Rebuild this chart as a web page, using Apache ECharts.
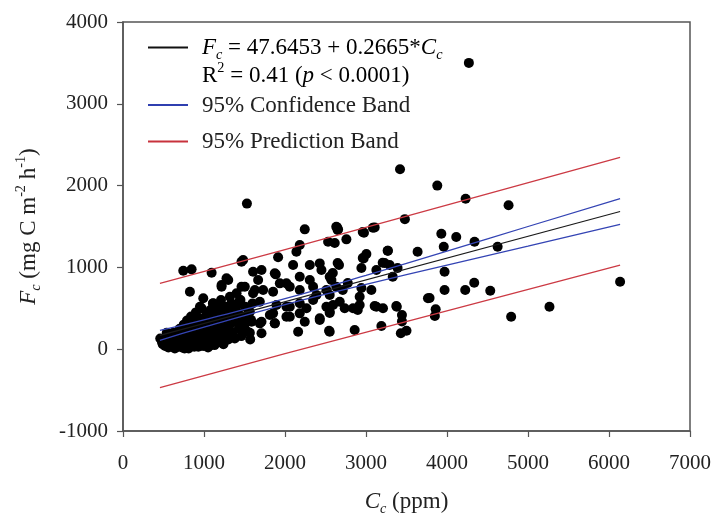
<!DOCTYPE html>
<html>
<head>
<meta charset="utf-8">
<script src="https://cdn.jsdelivr.net/npm/echarts@6/dist/echarts.min.js"></script>
<style>
  html, body { margin: 0; padding: 0; background: #fff; }
  #chart { width: 714px; height: 522px; }
</style>
</head>
<body>
<div id="chart"></div>
<script>
// x: Cc (ppm), y: Fc (mg C m-2 h-1)
const scatterPoints = [
  // dense cluster at low Cc
  [460,130],[480,90],[490,60],[510,110],[520,40],[540,150],[550,70],[560,20],[570,100],[590,50],
  [600,180],[610,30],[620,130],[630,80],[640,10],[650,200],[660,60],[670,140],[680,30],[690,100],
  [700,250],[710,50],[720,170],[730,20],[740,120],[750,300],[760,80],[770,200],[780,40],[790,350],
  [800,150],[810,10],[820,260],[830,90],[840,400],[850,180],[860,40],[870,320],[880,120],[890,220],
  [900,60],[900,450],[910,280],[920,150],[930,30],[940,380],[950,200],[960,100],[970,500],[980,260],
  [990,40],[1000,330],[1010,160],[1020,80],[1030,420],[1040,230],[1050,20],[1060,300],[1070,130],[1080,480],
  [1090,200],[1100,60],[1100,360],[1110,560],[1120,250],[1130,140],[1140,420],[1150,320],[1160,80],[1170,500],
  [1180,200],[1190,380],[1200,130],[1210,600],[1220,280],[1230,450],[1240,60],[1250,350],[1260,180],[1270,520],
  [1280,420],[1290,240],[1300,120],[1310,480],[1320,300],[1340,560],[1350,200],[1360,400],[1380,130],[1390,520],
  [1400,330],[1420,450],[1430,250],[1450,600],[1460,160],[1480,400],[1500,300],[1510,520],[1530,220],[1550,440],
  [1570,120],[1580,360],[1600,560],[580,160],[620,200],[680,210],[720,110],[760,10],[800,60],[850,120],
  [880,30],[940,110],[980,170],[1030,110],[1080,50],[1130,50],[700,140],[640,160],[540,200],[760,240],
  [820,330],[900,380],[960,300],
  // upper part of the cluster
  [744,960],[847,976],[1094,935],[1463,1070],[826,703],[1299,846],[1217,764],[1463,764],[991,622],[1114,561],
  [1320,642],[1402,683],[950,519],[1217,519],[1443,561],[1278,866],[1217,785],
  // middle range
  [1530,1780],[2244,1465],[2633,1497],[2182,1273],[2141,1191],[2532,1314],[1483,1090],[1915,1123],[2100,1029],[2306,1029],
  [2429,1049],[2450,968],[2552,886],[1606,947],[1710,968],[1874,927],[1668,846],[1504,764],[2182,886],[2306,846],
  [1936,805],[2059,764],[1730,723],[1853,703],[1606,683],[2182,723],[2388,662],[2552,662],[1443,601],[1689,581],
  [1895,540],[2059,519],[2265,500],[2511,519],[1566,458],[1813,418],[2059,397],[2429,377],[1483,336],[1689,316],
  [1874,316],[2244,336],[1566,200],[1710,194],[2162,214],[2544,226],[2643,1489],[2655,1465],[2758,1343],[2975,1424],
  [3107,1489],[3271,1204],[2971,1110],[2667,1029],[1886,915],[1628,723],[2018,805],[2347,764],[2511,723],[2347,601],
  [2593,540],[2737,500],[2922,540],[3128,519],[2018,519],[2182,561],[1853,438],[2018,397],[2182,438],[2429,357],
  [1587,336],[1710,336],[1874,316],[2552,458],
  [2650,1457],[2960,1432],[3085,1485],[2614,1298],[2960,1114],[3005,1163],[2650,1053],[3206,1057],[2943,992],[3128,968],
  [2590,931],[2573,846],[2775,809],[2633,764],[2943,748],[3066,723],[2713,723],[2922,642],[2676,581],[2840,500],
  [2898,479],[3107,528],[3374,528],[2552,442],[2860,235],[2552,214],[3765,622],
  // high Cc
  [4270,3500],[3420,2200],[3880,2000],[4230,1840],[4760,1760],[3480,1590],[3930,1411],[4114,1371],[3960,1253],[4340,1314],
  [4625,1253],[3267,1204],[3637,1192],[3230,1053],[3292,1029],[3390,993],[3330,886],[3970,947],[3970,723],[4225,723],
  [4336,813],[4534,715],[3785,626],[3210,500],[3380,519],[3444,418],[3444,340],[3430,194],[3500,226],[3860,488],
  [3850,406],[5265,519],[4792,397],[6137,825],[3190,284]
];

// regression line and bands, read at a few Cc values
const fitX = [456, 6137];
const fitY = [169, 1683];
const confX = [456, 1000, 2000, 3000, 4000, 5000, 6137];
const confUpper = [229, 359, 617, 902, 1199, 1500, 1840];
const confLower = [109, 269, 545, 792, 1029, 1260, 1526];
const predX = [456, 2000, 6137];
const predUpper = [806, 1217, 2346];
const predLower = [-470, -55, 1029];

const xTicks = { min: 0, max: 7000, interval: 1000 };
const yTicks = { min: -1000, max: 4000, interval: 1000 };

const serif = 'Liberation Serif';
const axisColor = '#555';
const textColor = '#222';
const pair = (xs, ys) => xs.map((x, i) => [x, ys[i]]);

const rich = (size) => ({
  n: { fontFamily: serif, fontSize: size, color: textColor },
  i: { fontFamily: serif, fontSize: size, fontStyle: 'italic', color: textColor },
  sub: { fontFamily: serif, fontSize: size * 0.62, fontStyle: 'italic', color: textColor, verticalAlign: 'bottom', lineHeight: size * 1.25 },
  sup: { fontFamily: serif, fontSize: size * 0.62, color: textColor, verticalAlign: 'top', lineHeight: size * 1.25 }
});

const chart = echarts.init(document.getElementById('chart'), null, { renderer: 'canvas' });

const option = {
  animation: false,
  backgroundColor: '#fff',
  grid: { left: 123, right: 23, top: 22, bottom: 91, show: true, borderColor: axisColor, borderWidth: 1.5 },
  xAxis: {
    type: 'value',
    min: xTicks.min, max: xTicks.max, interval: xTicks.interval,
    axisLine: { show: true, onZero: false, lineStyle: { color: axisColor, width: 1.5 } },
    axisTick: { show: true, length: 6, lineStyle: { color: axisColor, width: 1.2 } },
    splitLine: { show: false },
    axisLabel: { color: textColor, fontFamily: serif, fontSize: 21, margin: 22, formatter: (v) => String(v) },
    name: '{i|C}{sub|c}{n| (ppm)}',
    nameLocation: 'middle',
    nameGap: 57,
    nameTextStyle: { rich: rich(23) }
  },
  yAxis: {
    type: 'value',
    min: yTicks.min, max: yTicks.max, interval: yTicks.interval,
    axisLine: { show: true, onZero: false, lineStyle: { color: axisColor, width: 1.5 } },
    axisTick: { show: true, length: 6, lineStyle: { color: axisColor, width: 1.2 } },
    splitLine: { show: false },
    axisLabel: { color: textColor, fontFamily: serif, fontSize: 21, margin: 15, formatter: (v) => String(v) },
    name: '{i|F}{sub|c}{n| (mg C m}{sup|-2}{n| h}{sup|-1}{n|)}',
    nameLocation: 'middle',
    nameGap: 80,
    nameTextStyle: { rich: rich(23) }
  },
  series: [
    {
      type: 'scatter',
      data: scatterPoints,
      symbolSize: 10,
      itemStyle: { color: '#000', opacity: 1 },
      z: 2
    },
    {
      type: 'line', data: pair(fitX, fitY), showSymbol: false, z: 5,
      lineStyle: { color: '#1a1a1a', width: 1.2 }
    },
    {
      type: 'line', data: pair(confX, confUpper), showSymbol: false, smooth: true, z: 5,
      lineStyle: { color: '#3444b4', width: 1.3 }
    },
    {
      type: 'line', data: pair(confX, confLower), showSymbol: false, smooth: true, z: 5,
      lineStyle: { color: '#3444b4', width: 1.3 }
    },
    {
      type: 'line', data: pair(predX, predUpper), showSymbol: false, smooth: true, z: 5,
      lineStyle: { color: '#cc3a44', width: 1.3 }
    },
    {
      type: 'line', data: pair(predX, predLower), showSymbol: false, smooth: true, z: 5,
      lineStyle: { color: '#cc3a44', width: 1.3 }
    }
  ],
  graphic: [
    { type: 'line', shape: { x1: 148, y1: 47.5, x2: 188, y2: 47.5 }, style: { stroke: '#111', lineWidth: 2 } },
    { type: 'line', shape: { x1: 148, y1: 105, x2: 188, y2: 105 }, style: { stroke: '#2f3fb0', lineWidth: 2 } },
    { type: 'line', shape: { x1: 148, y1: 141.5, x2: 188, y2: 141.5 }, style: { stroke: '#c8323c', lineWidth: 2 } },
    {
      type: 'text', x: 202, y: 48,
      style: { text: '{i|F}{sub|c}{n| = 47.6453 + 0.2665*}{i|C}{sub|c}', rich: rich(23), verticalAlign: 'middle', align: 'left' }
    },
    {
      type: 'text', x: 202, y: 76,
      style: { text: '{n|R}{sup|2}{n| = 0.41 (}{i|p}{n| < 0.0001)}', rich: rich(23), verticalAlign: 'middle', align: 'left' }
    },
    {
      type: 'text', x: 202, y: 106,
      style: { text: '95% Confidence Band', font: '23px "Liberation Serif"', fill: textColor, verticalAlign: 'middle', align: 'left' }
    },
    {
      type: 'text', x: 202, y: 142,
      style: { text: '95% Prediction Band', font: '23px "Liberation Serif"', fill: textColor, verticalAlign: 'middle', align: 'left' }
    }
  ]
};

chart.setOption(option);
</script>
</body>
</html>
